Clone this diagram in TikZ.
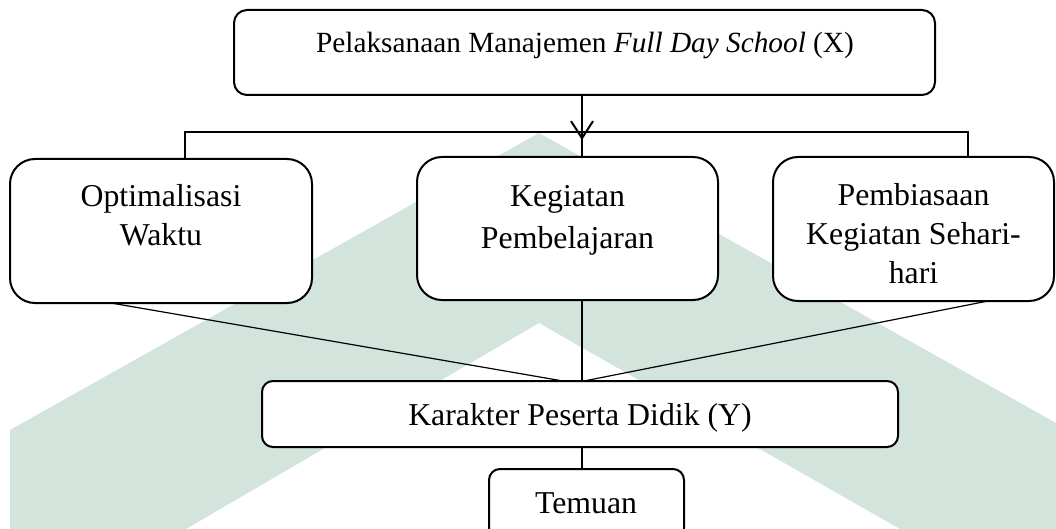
\documentclass[tikz,border=0pt]{standalone}
\usepackage{fontspec}
\setmainfont{Liberation Serif}
\usetikzlibrary{arrows.meta,calc}
\definecolor{wm}{RGB}{210,228,220}
\newcommand\boxfont{\fontsize{31.8pt}{38pt}\selectfont}
\newcommand\topfont{\fontsize{29.3pt}{35pt}\selectfont}
\begin{document}
\begin{tikzpicture}[x=1pt,y=-1pt,
  box/.style={draw, line width=2pt, fill=white, inner sep=0pt, outer sep=0pt, anchor=north west},
  txt/.style={inner sep=0pt, anchor=base, font=\boxfont},
  conn/.style={line width=1.2pt},
  thick conn/.style={line width=2pt}]
\useasboundingbox (0,0) rectangle (1056,529);
% watermark
\fill[wm] (10,529) -- (10,430) -- (539,133) -- (1056,423) -- (1056,529) -- (900,529) -- (539,323) -- (186,529) -- cycle;
% boxes
\node[box, rounded corners=13pt, minimum width=701pt, minimum height=85pt] (top) at (234,10) {};
\node[box, rounded corners=25pt, minimum width=302pt, minimum height=144pt] (left) at (10,159) {};
\node[box, rounded corners=25pt, minimum width=301pt, minimum height=143pt] (mid) at (417,157) {};
\node[box, rounded corners=25pt, minimum width=281pt, minimum height=144pt] (right) at (773,157) {};
\node[box, rounded corners=11pt, minimum width=636pt, minimum height=66pt] (kar) at (262,381) {};
\node[box, rounded corners=11pt, minimum width=195pt, minimum height=80pt] (tem) at (489,469) {};
% texts
\node[txt, font=\topfont] (ttop) at (585,53) {Pelaksanaan Manajemen \textit{Full Day School} (X)};
\node[txt] (tl1) at (161,207) {Optimalisasi};
\node[txt] (tl2) at (161,245) {Waktu};
\node[txt] (tm1) at (567.5,207) {Kegiatan};
\node[txt] (tm2) at (567.5,248) {Pembelajaran};
\node[txt] (tr1) at (913.5,206) {Pembiasaan};
\node[txt] (tr2) at (913.5,244) {Kegiatan Sehari-};
\node[txt] (tr3) at (913.5,283) {hari};
\node[txt] (tk) at (580,425) {Karakter Peserta Didik (Y)};
\node[txt] (tt) at (586,513) {Temuan};
% connectors
\coordinate (busL) at (185,132);
\coordinate (busR) at (968,132);
\coordinate (hub) at (582,132);
\coordinate (tip) at (582,140);
\draw[thick conn, -{Straight Barb[length=17pt,width=22pt]}] (top.south -| hub) -- (tip);
\draw[conn] (left.north -| busL) -- (busL) -- (busR) -- (right.north -| busR);
\draw[conn] (hub) -- (mid.north -| hub);
\draw[conn] ([xshift=101pt]left.south west) -- ([xshift=301pt]kar.north west);
\draw[conn] (mid.south -| hub) -- (kar.north -| hub);
\draw[conn] ([xshift=215pt]right.south west) -- ([xshift=322pt]kar.north west);
\draw[thick conn] (kar.south -| hub) -- (tem.north -| hub);
\end{tikzpicture}
\end{document}
